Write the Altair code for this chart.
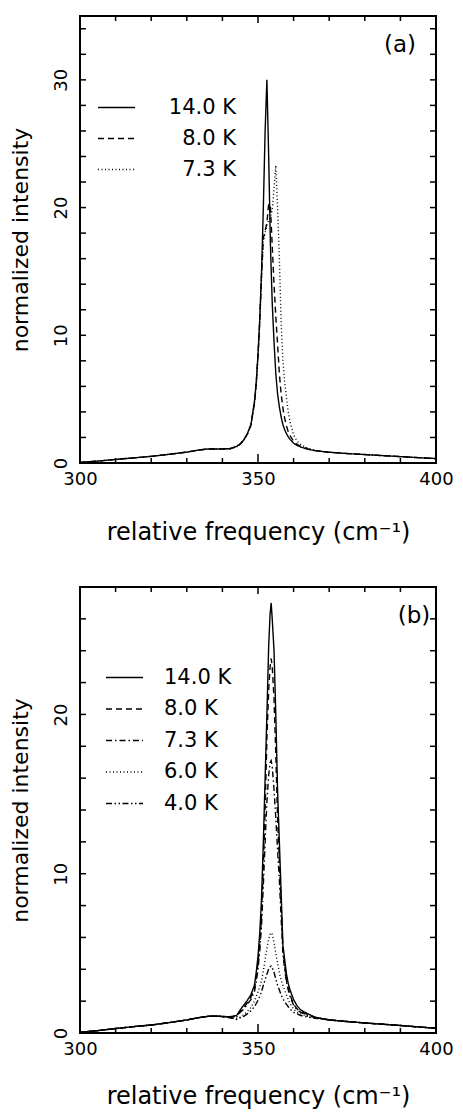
import altair as alt
import pandas as pd

FONT = "DejaVu Sans"

# ---------------- panel (a) ----------------
xa = [300, 305, 310, 315, 320, 325, 330, 333, 336, 339, 342, 344, 345, 346, 347, 348,
      349, 349.5, 350, 350.5, 351, 351.5, 352, 352.5, 353, 353.5, 354, 354.5, 355, 355.5,
      356, 356.5, 357, 357.5, 358, 358.5, 359, 360, 361, 362, 364, 366, 368, 370, 375,
      380, 385, 390, 395, 400]
a_140 = [0.05, 0.15, 0.28, 0.40, 0.52, 0.68, 0.85, 1.00, 1.10, 1.10, 1.12, 1.30, 1.50, 1.80, 2.30, 3.00,
         4.80, 6.30, 8.50, 11.3, 15.0, 20.0, 26.0, 30.0, 24.0, 17.0, 12.5, 9.50, 7.00, 5.40,
         4.40, 3.60, 3.00, 2.60, 2.30, 2.05, 1.85, 1.55, 1.38, 1.25, 1.08, 0.97, 0.90, 0.84, 0.74,
         0.66, 0.58, 0.50, 0.42, 0.35]
a_80 = [0.05, 0.15, 0.28, 0.40, 0.52, 0.68, 0.85, 1.00, 1.10, 1.10, 1.10, 1.28, 1.48, 1.78, 2.25, 2.95,
        4.70, 6.20, 8.40, 11.2, 14.8, 17.6, 18.2, 18.8, 20.3, 20.0, 17.0, 14.0, 11.5, 9.30,
        7.00, 5.40, 4.30, 3.50, 2.90, 2.45, 2.15, 1.70, 1.45, 1.30, 1.10, 0.98, 0.90, 0.84, 0.74,
        0.66, 0.58, 0.50, 0.42, 0.35]
a_73 = [0.05, 0.15, 0.28, 0.40, 0.52, 0.68, 0.85, 1.00, 1.10, 1.10, 1.10, 1.27, 1.47, 1.77, 2.20, 2.90,
        4.60, 6.10, 8.30, 11.0, 14.5, 17.3, 18.0, 18.6, 19.0, 19.3, 19.8, 21.5, 23.3, 20.0,
        16.0, 11.0, 8.00, 6.30, 5.10, 4.00, 3.20, 2.20, 1.70, 1.45, 1.15, 1.00, 0.91, 0.85, 0.74,
        0.66, 0.58, 0.50, 0.42, 0.35]
labels_a = ["14.0 K", "8.0 K", "7.3 K"]
dash_a = [[1, 0], [6, 4], [1, 2.5]]

# ---------------- panel (b) ----------------
xb = [300, 305, 310, 315, 320, 325, 330, 333, 336, 339, 342, 344, 345, 346, 347, 348,
      349, 349.5, 350, 350.5, 351, 351.5, 352, 352.5, 353, 353.4, 353.7, 354, 354.5, 355,
      355.5, 356, 356.5, 357, 357.5, 358, 358.5, 359, 360, 361, 362, 364, 366, 368, 370,
      375, 380, 385, 390, 395, 400]
b_140 = [0.05, 0.15, 0.28, 0.40, 0.50, 0.65, 0.82, 0.95, 1.05, 1.05, 1.02, 1.10, 1.45, 1.75, 2.05, 2.40,
         3.00, 3.80, 4.80, 6.30, 8.50, 12.0, 16.0, 20.0, 24.3, 26.3, 27.0, 26.0, 24.0, 20.0,
         15.2, 12.0, 8.80, 5.50, 4.60, 3.70, 3.10, 2.70, 2.10, 1.70, 1.45, 1.20, 1.00, 0.90, 0.82,
         0.72, 0.63, 0.55, 0.47, 0.38, 0.30]
b_80 = [0.05, 0.15, 0.28, 0.40, 0.50, 0.65, 0.82, 0.95, 1.05, 1.05, 1.00, 1.05, 1.35, 1.60, 1.90, 2.25,
        2.80, 3.50, 4.40, 5.50, 7.50, 10.5, 14.0, 18.5, 21.5, 23.0, 23.5, 23.0, 21.0, 17.5,
        13.5, 10.8, 8.00, 5.30, 4.20, 3.30, 2.80, 2.40, 1.80, 1.50, 1.35, 1.15, 0.98, 0.90, 0.82,
        0.72, 0.63, 0.55, 0.47, 0.38, 0.30]
b_73 = [0.05, 0.15, 0.28, 0.40, 0.50, 0.65, 0.82, 0.95, 1.05, 1.05, 1.00, 1.00, 1.30, 1.50, 1.80, 2.10,
        2.60, 3.20, 4.00, 5.20, 6.80, 9.30, 12.0, 14.5, 16.2, 17.0, 17.1, 16.7, 15.3, 13.5,
        11.5, 9.60, 7.20, 5.00, 4.00, 3.20, 2.70, 2.30, 1.75, 1.45, 1.30, 1.10, 0.97, 0.90, 0.82,
        0.72, 0.63, 0.55, 0.47, 0.38, 0.30]
b_60 = [0.05, 0.15, 0.28, 0.40, 0.50, 0.65, 0.82, 0.95, 1.05, 1.05, 0.98, 0.90, 1.00, 1.15, 1.35, 1.60,
        2.00, 2.30, 2.60, 2.90, 3.30, 3.90, 4.60, 5.30, 5.90, 6.20, 6.30, 6.20, 5.70, 5.00,
        4.40, 3.80, 3.30, 3.00, 2.70, 2.40, 2.10, 1.85, 1.50, 1.30, 1.20, 1.05, 0.95, 0.88, 0.82,
        0.72, 0.63, 0.55, 0.47, 0.38, 0.30]
b_40 = [0.05, 0.15, 0.28, 0.40, 0.50, 0.65, 0.82, 0.95, 1.05, 1.05, 0.96, 0.85, 0.95, 1.05, 1.20, 1.40,
        1.65, 1.85, 2.05, 2.30, 2.60, 3.00, 3.35, 3.70, 4.00, 4.15, 4.20, 4.10, 3.80, 3.40,
        3.00, 2.70, 2.40, 2.15, 1.95, 1.80, 1.65, 1.50, 1.30, 1.20, 1.10, 1.00, 0.93, 0.88, 0.82,
        0.72, 0.63, 0.55, 0.47, 0.38, 0.30]
labels_b = ["14.0 K", "8.0 K", "7.3 K", "6.0 K", "4.0 K"]
dash_b = [[1, 0], [6, 4], [6, 3, 1.5, 3], [1, 2.5], [6, 2.5, 1.5, 2.5, 1.5, 2.5]]

# ---------------- axes ----------------
x_labels = [300, 350, 400]
x_minor = [310, 320, 330, 340, 360, 370, 380, 390]
x_major = [350]
ya_labels = [0, 10, 20, 30]
ya_ticks = [2, 4, 6, 8, 10, 12, 14, 16, 18, 20, 22, 24, 26, 28, 30, 32, 34]
yb_labels = [0, 10, 20]
yb_ticks = [2, 4, 6, 8, 10, 12, 14, 16, 18, 20, 22, 24, 26]

W = 356
X_TITLE = "relative frequency (cm\u207b\u00b9)"
Y_TITLE = "normalized intensity"


def panel(x, series, labels, dashes, ymax, ylabels, yticks, H, tag, tag_x,
          leg_x, leg_y, lab_align, lab_off, row_pad, title_pad):
    frames = [pd.DataFrame({"f": x, "I": s, "T": lab}) for s, lab in zip(series, labels)]
    for fr in frames:
        assert len(fr) == len(x)
    df = pd.concat(frames, ignore_index=True)
    xs = alt.Scale(domain=[300, 400], nice=False, zero=False)
    ys = alt.Scale(domain=[0, ymax], nice=False)
    x_axis = alt.Axis(
        values=x_labels, format="d", ticks=False, tickSize=0, domain=False, grid=False,
        labelFont=FONT, labelFontSize=18, labelColor="black", labelPadding=7,
        labelFlush=False, labelOverlap=False,
        title=X_TITLE, titleFont=FONT, titleFontSize=24,
        titleFontWeight="normal", titleColor="black", titlePadding=title_pad)
    y_axis = alt.Axis(
        values=ylabels, format="d", ticks=False, tickSize=0, domain=False, grid=False,
        labelFont=FONT, labelFontSize=18, labelColor="black", labelAngle=270,
        labelAlign="center", labelBaseline="middle", labelPadding=19,
        labelFlush=False, labelOverlap=False,
        title=Y_TITLE, titleFont=FONT, titleFontSize=22,
        titleFontWeight="normal", titleColor="black", titleX=-60, titleBaseline="middle")

    lines = alt.Chart(df).mark_line(color="black", strokeWidth=1.4, clip=True).encode(
        x=alt.X("f:Q", scale=xs, axis=x_axis, title=X_TITLE),
        y=alt.Y("I:Q", scale=ys, axis=y_axis, title=Y_TITLE),
        strokeDash=alt.StrokeDash("T:N", scale=alt.Scale(domain=labels, range=dashes),
                                  legend=alt.Legend(
                                      orient="none", legendX=leg_x, legendY=leg_y, title=None,
                                      symbolType="stroke", symbolSize=1369, symbolStrokeWidth=1.4,
                                      symbolStrokeColor="black", labelFont=FONT, labelFontSize=21,
                                      labelColor="black", labelAlign=lab_align, labelOffset=lab_off,
                                      rowPadding=row_pad, padding=0, labelLimit=300)),
    )

    tx_min = pd.DataFrame({"v": x_minor})
    tx_maj = pd.DataFrame({"v": x_major})
    ty = pd.DataFrame({"v": yticks})
    rule = dict(color="black", strokeWidth=1.5)
    xax = alt.X("v:Q", scale=xs, axis=x_axis, title=X_TITLE)
    yax = alt.Y("v:Q", scale=ys, axis=y_axis, title=Y_TITLE)
    layers = [
        lines,
        alt.Chart(tx_min).mark_rule(**rule).encode(x=xax, y=alt.value(H), y2=alt.value(H - 5)),
        alt.Chart(tx_maj).mark_rule(**rule).encode(x=xax, y=alt.value(H), y2=alt.value(H - 9)),
        alt.Chart(tx_min).mark_rule(**rule).encode(x=xax, y=alt.value(0), y2=alt.value(5)),
        alt.Chart(tx_maj).mark_rule(**rule).encode(x=xax, y=alt.value(0), y2=alt.value(7)),
        alt.Chart(ty).mark_rule(**rule).encode(y=yax, x=alt.value(0), x2=alt.value(6)),
        alt.Chart(ty).mark_rule(**rule).encode(y=yax, x=alt.value(W), x2=alt.value(W - 6)),
        alt.Chart(pd.DataFrame({"t": [tag]})).mark_text(
            font=FONT, fontSize=23, color="black", align="center", baseline="middle").encode(
            text="t:N", x=alt.value(tag_x), y=alt.value(29)),
    ]
    return alt.layer(*layers).properties(width=W, height=H)


pa = panel(xa, [a_140, a_80, a_73], labels_a, dash_a, 35, ya_labels, ya_ticks, 447,
           "(a)", 320, 17, 72, "right", 100, 1, 32)
pb = panel(xb, [b_140, b_80, b_73, b_60, b_40], labels_b, dash_b, 28, yb_labels, yb_ticks, 446,
           "(b)", 334, 25, 71, "left", 20, 1.5, 26)

chart = alt.vconcat(pa, pb, spacing=40).resolve_scale(
    strokeDash="independent", x="independent", y="independent"
).resolve_legend(strokeDash="independent").properties(
    padding={"left": 0, "top": 6, "right": 0, "bottom": 0},
    background="white",
).configure_view(stroke="black", strokeWidth=2)

chart.save("out.html", embed_options={"renderer": "svg", "actions": False})
